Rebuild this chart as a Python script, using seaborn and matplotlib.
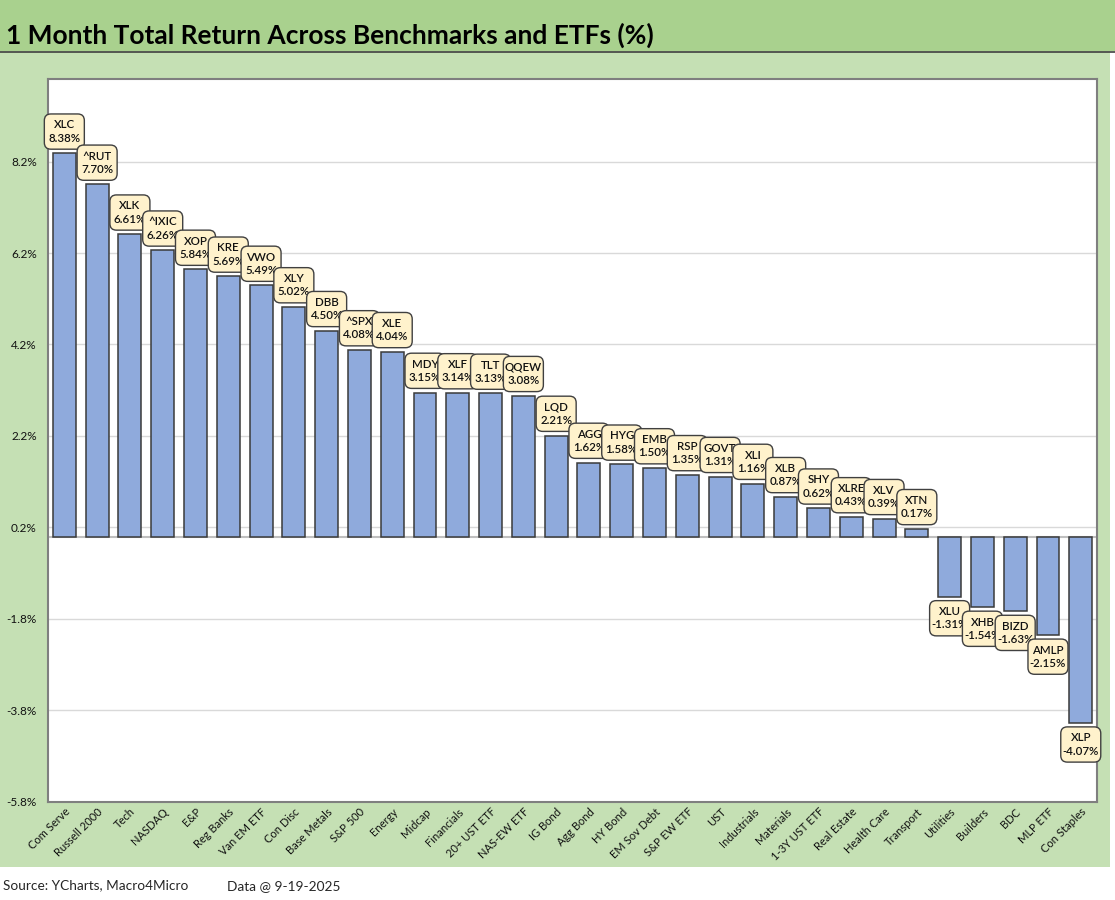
import numpy as np
import pandas as pd
import matplotlib
matplotlib.use("Agg")
import matplotlib.pyplot as plt
from matplotlib.patches import Rectangle, FancyBboxPatch
from matplotlib.lines import Line2D
import seaborn as sns

# chart data
categories = ["Com Serve", "Russell 2000", "Tech", "NASDAQ", "E&P", "Reg Banks", "Van EM ETF",
              "Con Disc", "Base Metals", "S&P 500", "Energy", "Midcap", "Financials",
              "20+ UST ETF", "NAS-EW ETF", "IG Bond", "Agg Bond", "HY Bond", "EM Sov Debt",
              "S&P EW ETF", "UST", "Industrials", "Materials", "1-3Y UST ETF", "Real Estate",
              "Health Care", "Transport", "Utilities", "Builders", "BDC", "MLP ETF", "Con Staples"]
tickers = ["XLC", "^RUT", "XLK", "^IXIC", "XOP", "KRE", "VWO", "XLY", "DBB", "^SPX", "XLE",
           "MDY", "XLF", "TLT", "QQEW", "LQD", "AGG", "HYG", "EMB", "RSP", "GOVT", "XLI",
           "XLB", "SHY", "XLRE", "XLV", "XTN", "XLU", "XHB", "BIZD", "AMLP", "XLP"]
returns = [8.38, 7.70, 6.61, 6.26, 5.84, 5.69, 5.49, 5.02, 4.50, 4.08, 4.04, 3.15, 3.14,
           3.13, 3.08, 2.21, 1.62, 1.58, 1.50, 1.35, 1.31, 1.16, 0.87, 0.62, 0.43, 0.39,
           0.17, -1.31, -1.54, -1.63, -2.15, -4.07]
y_ticks = [-5.8, -3.8, -1.8, 0.2, 2.2, 4.2, 6.2, 8.2]

df = pd.DataFrame({"Category": categories, "Ticker": tickers, "Return": returns})

sns.set_style("white")
plt.rcParams["font.family"] = ["Lato", "DejaVu Sans"]

fig = plt.figure(figsize=(11.15, 9), dpi=100)

# background bands
fig.patches.append(Rectangle((0, 0.037), 0.9955, 0.906, transform=fig.transFigure,
                             facecolor="#c5e0b4", edgecolor="none", zorder=-3))
fig.patches.append(Rectangle((0, 0.943), 1, 0.057, transform=fig.transFigure,
                             facecolor="#a9d18e", edgecolor="none", zorder=-3))
fig.lines.append(Line2D([0, 1], [0.942, 0.942], transform=fig.transFigure,
                        color="#404040", lw=1.2))

ax = fig.add_axes([0.043, 0.109, 0.941, 0.803])
ax.set_facecolor("white")

sns.barplot(data=df, x="Category", y="Return", color="#8faadc", saturation=1,
            edgecolor="#3a3a3a", linewidth=1.1, width=0.7, ax=ax, zorder=2)

ax.set_xlim(-0.5, len(categories) - 0.5)
ax.set_ylim(-5.8, 10.0)
ax.set_yticks(y_ticks)
ax.set_yticklabels([f"{t:.1f}%" for t in y_ticks], fontsize=8.5, color="#111111")
ax.yaxis.grid(True, color="#d9d9d9", lw=1)
ax.set_axisbelow(True)
ax.axhline(0, color="#bfbfbf", lw=1.5, zorder=1)
ax.tick_params(axis="y", length=0, pad=8)
ax.tick_params(axis="x", length=0, pad=3)
ax.set_xticks(range(len(categories)))
ax.set_xticklabels(categories, rotation=45, ha="right", va="top",
                   rotation_mode="anchor", fontsize=8, color="#111111")
ax.set_xlabel("")
ax.set_ylabel("")
for s in ax.spines.values():
    s.set_color("#7f7f7f")
    s.set_linewidth(1.5)

# label boxes
box_w, box_h, gap = 1.22, 0.77, 0.09
for i, (t, v) in enumerate(zip(tickers, returns)):
    y0 = v + gap if v >= 0 else v - gap - box_h
    box = FancyBboxPatch((i - box_w / 2, y0), box_w, box_h,
                         boxstyle="round,pad=0,rounding_size=0.2", mutation_aspect=0.72,
                         facecolor="#fff2cc", edgecolor="#404040", lw=1.0,
                         zorder=5 + 2 * i, clip_on=False)
    ax.add_patch(box)
    ax.text(i, y0 + box_h / 2, f"{t}\n{v:.2f}%", ha="center", va="center",
            fontsize=8.3, fontweight="semibold", linespacing=1.25,
            color="#111111", zorder=6 + 2 * i)

fig.text(0.005, 0.961, "1 Month Total Return Across Benchmarks and ETFs (%)",
         fontsize=19, fontweight="bold", color="black", ha="left", va="center")
fig.text(0.003, 0.016, "Source: YCharts, Macro4Micro", fontsize=9.8, ha="left", va="center")
fig.text(0.204, 0.016, "Data @ 9-19-2025", fontsize=9.8, ha="left", va="center")

fig.savefig("out.png", dpi=100)
